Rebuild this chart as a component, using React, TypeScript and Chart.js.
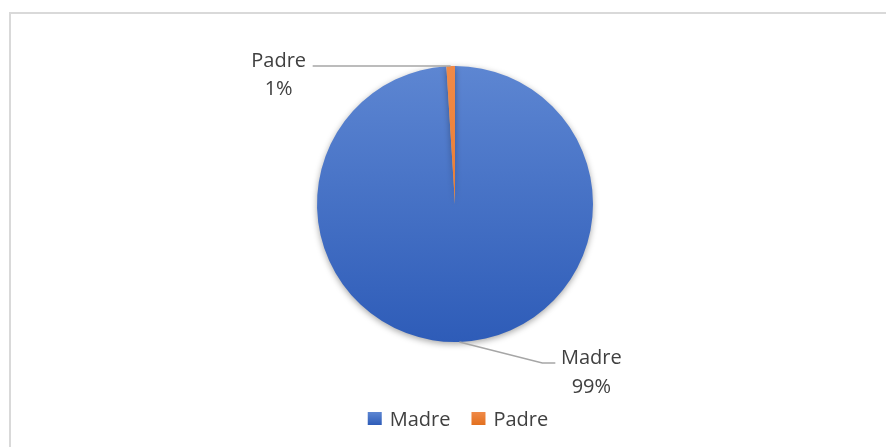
import React, { useEffect, useRef } from "react";
import { Chart, registerables } from "chart.js";

Chart.register(...registerables);

const categories = ["Madre", "Padre"];
const values = [99, 1];
const percentLabels = ["99%", "1%"];

const topColors = ["#5D86D2", "#F08A48"];
const bottomColors = ["#2E5CB8", "#E2701F"];

const FONT = '"Open Sans", "Liberation Sans", sans-serif';
const TEXT_COLOR = "#404040";
const LEADER_COLOR = "#A6A6A6";

// label layout relative to the anchor point on the slice edge (mid-angle)
const labelLayout = [
  { leader: [[83, 21], [96, 21]], textDx: 132, base1: 22, base2: 51 },
  { leader: [[-138, 0]], textDx: -172, base1: 1, base2: 29 },
];

export default function App() {
  const ref = useRef<HTMLCanvasElement>(null);

  useEffect(() => {
    const canvas = ref.current!;

    const decor = {
      id: "decor",
      beforeDraw(chart: any) {
        const ctx = chart.ctx;
        ctx.save();
        ctx.fillStyle = "#ffffff";
        ctx.fillRect(0, 0, chart.width, chart.height);
        ctx.strokeStyle = "#D9D9D9";
        ctx.lineWidth = 2;
        ctx.beginPath();
        ctx.moveTo(10, chart.height);
        ctx.lineTo(10, 13);
        ctx.lineTo(chart.width, 13);
        ctx.stroke();
        ctx.restore();
      },
      beforeDatasetsDraw(chart: any) {
        const ctx = chart.ctx;
        ctx.save();
        ctx.shadowColor = "rgba(0,0,0,0.35)";
        ctx.shadowBlur = 6;
        ctx.shadowOffsetY = 2;
      },
      afterDatasetsDraw(chart: any) {
        const ctx = chart.ctx;
        ctx.restore();
        const meta = chart.getDatasetMeta(0);
        ctx.save();
        meta.data.forEach((arc: any, i: number) => {
          const p = arc.getProps(["x", "y", "startAngle", "endAngle", "outerRadius"], true);
          const mid = (p.startAngle + p.endAngle) / 2;
          const ax = p.x + Math.cos(mid) * p.outerRadius;
          const ay = p.y + Math.sin(mid) * p.outerRadius;
          const lay = labelLayout[i];
          ctx.strokeStyle = LEADER_COLOR;
          ctx.lineWidth = 1.5;
          ctx.beginPath();
          ctx.moveTo(ax, ay);
          lay.leader.forEach(([dx, dy]) => ctx.lineTo(ax + dx, ay + dy));
          ctx.stroke();
          ctx.fillStyle = TEXT_COLOR;
          ctx.font = `20px ${FONT}`;
          ctx.textAlign = "center";
          ctx.textBaseline = "alphabetic";
          ctx.fillText(String(chart.data.labels[i]), ax + lay.textDx, ay + lay.base1);
          ctx.fillText(percentLabels[i], ax + lay.textDx, ay + lay.base2);
        });
        ctx.restore();
      },
      afterDraw(chart: any) {
        // legend
        const ctx = chart.ctx;
        ctx.save();
        ctx.font = `20px ${FONT}`;
        ctx.textBaseline = "alphabetic";
        ctx.textAlign = "left";
        const box = 14;
        const gap = 8;
        const spacing = 21;
        const labels: string[] = chart.data.labels;
        const widths = labels.map((l) => ctx.measureText(l).width);
        const total = widths.reduce((s, w) => s + box + gap + w, 0) + spacing * (labels.length - 1);
        let x = 458 - total / 2;
        const baseline = 426;
        labels.forEach((l, i) => {
          const g = ctx.createLinearGradient(0, baseline - 14, 0, baseline - 1);
          g.addColorStop(0, topColors[i]);
          g.addColorStop(1, bottomColors[i]);
          ctx.fillStyle = g;
          ctx.fillRect(x, baseline - 14, box, 13);
          x += box + gap;
          ctx.fillStyle = TEXT_COLOR;
          ctx.fillText(l, x, baseline);
          x += widths[i] + spacing;
        });
        ctx.restore();
      },
    };

    const chart = new Chart(canvas, {
      type: "pie",
      data: {
        labels: categories,
        datasets: [
          {
            data: values,
            backgroundColor: (c: any) => {
              const area = c.chart.chartArea;
              const i = c.dataIndex;
              if (!area) return topColors[i];
              const g = c.chart.ctx.createLinearGradient(0, area.top, 0, area.bottom);
              g.addColorStop(0, topColors[i]);
              g.addColorStop(1, bottomColors[i]);
              return g;
            },
            borderWidth: 0,
          },
        ],
      },
      options: {
        responsive: false,
        animation: false,
        layout: { padding: { top: 66, bottom: 105, left: 24, right: 0 } },
        plugins: {
          legend: { display: false },
          tooltip: { enabled: false },
        },
      },
      plugins: [decor],
    });
    return () => chart.destroy();
  }, []);

  return (
    <div style={{ position: "fixed", left: 0, top: 0, width: 886, height: 447, background: "#fff" }}>
      <canvas ref={ref} width={886} height={447} style={{ display: "block", width: 886, height: 447 }} />
    </div>
  );
}
